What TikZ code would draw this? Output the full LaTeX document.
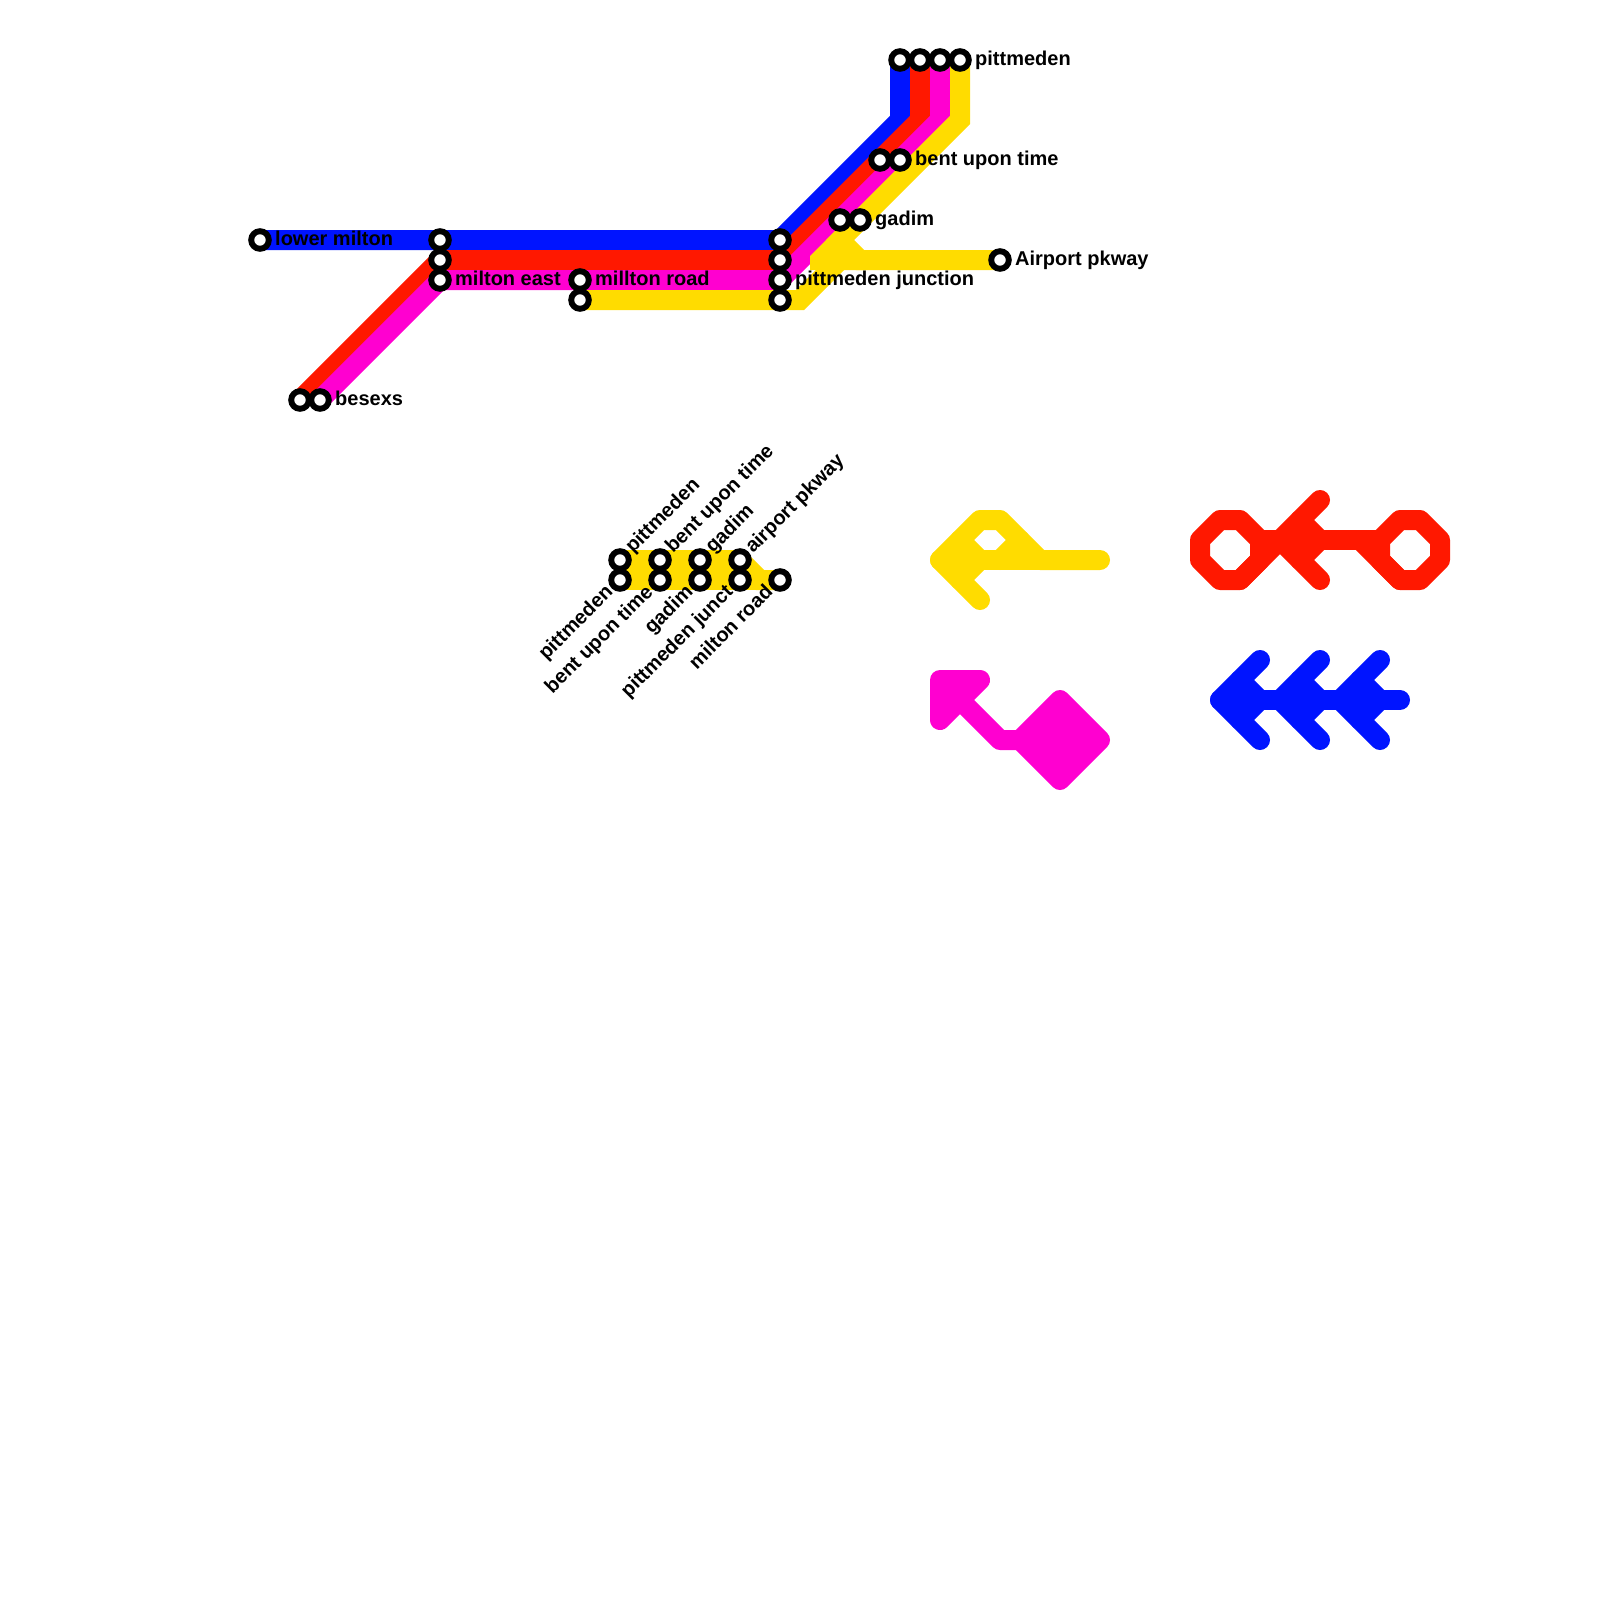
\documentclass[tikz,border=0pt]{standalone}
\usepackage{fontspec}
\setmainfont{Liberation Sans}[BoldFont={Liberation Sans Bold}]
\pgfdeclarelayer{lines}
\pgfsetlayers{lines,main}
\definecolor{lblue}{HTML}{0014FF}
\definecolor{lred}{HTML}{FF1800}
\definecolor{lmag}{HTML}{FF00D0}
\definecolor{lyel}{HTML}{FFDC00}
\tikzset{
  stn/.style={circle,draw=black,fill=white,line width=5.9pt,minimum size=17.6pt,inner sep=0pt},
  lab/.style={font=\fontsize{20pt}{22pt}\selectfont\bfseries,text=black,inner sep=0pt,anchor=base west},
  labr/.style={lab,rotate=45},
  labl/.style={font=\fontsize{20pt}{22pt}\selectfont\bfseries,text=black,inner sep=0pt,anchor=base east,rotate=45},
  route/.style={line width=20pt,line join=miter,line cap=butt},
  glyph/.style={line width=20pt,line join=round,line cap=round},
}
\begin{document}
\begin{tikzpicture}[x=1pt,y=-1pt]
\useasboundingbox (0,0) rectangle (1600,1600);
% stations
\foreach \n/\x/\y in {lm/260/240,me1/440/240,me2/440/260,me3/440/280,be1/300/400,be2/320/400,
  mr1/580/280,mr2/580/300,pj1/780/240,pj2/780/260,pj3/780/280,pj4/780/300,
  pi1/900/60,pi2/920/60,pi3/940/60,pi4/960/60,bu1/880/160,bu2/900/160,ga1/840/220,ga2/860/220,ap/1000/260,
  a1/620/560,a2/620/580,b1/660/560,b2/660/580,c1/700/560,c2/700/580,d1/740/560,d2/740/580,e2/780/580}
  {\node[stn] (\n) at (\x,\y) {};}
% labels
\node[lab] (tlm) at (275,245) {lower milton};
\node[lab] (tbe) at (335,405) {besexs};
\node[lab] (tme) at (455,285) {milton east};
\node[lab] (tmr) at (595,285) {millton road};
\node[lab] (tpj) at (795,285) {pittmeden junction};
\node[lab] (tpi) at (975,65.5) {pittmeden};
\node[lab] (tbu) at (915,165) {bent upon time};
\node[lab] (tga) at (875,225) {gadim};
\node[lab] (tap) at (1015,265) {Airport pkway};
\node[labr] (ua) at (633,554) {pittmeden};
\node[labr] (ub) at (673,554) {bent upon time};
\node[labr] (uc) at (713,554) {gadim};
\node[labr] (ud) at (753,554) {airport pkway};
\node[labl] (la) at (614,593) {pittmeden};
\node[labl] (lb) at (654,593) {bent upon time};
\node[labl] (lc) at (694,593) {gadim};
\node[labl] (ld) at (734,593) {pittmeden junct};
\node[labl] (le) at (774,593) {milton road};
\begin{pgfonlayer}{lines}
% bend points
\coordinate (bb1) at (780,240); \coordinate (bb2) at (900,120);
\coordinate (rr1) at (440,260); \coordinate (rr2) at (780,260); \coordinate (rr3) at (920,120);
\coordinate (mm1) at (440,280); \coordinate (mm2) at (780,280); \coordinate (mm3) at (940,120);
\coordinate (yy1) at (960,120); \coordinate (yy2) at (840,240); \coordinate (yy3) at (860,260);
\coordinate (yy4) at (800,300); \coordinate (yy5) at (840,260);
\coordinate (ee2) at (760,580);
\draw[route,lblue] (lm.center) -- (me1.center) -- (bb1) -- (bb2) -- (pi1.center);
\draw[route,lred] (be1.center) -- (rr1) -- (rr2) -- (rr3) -- (pi2.center);
\draw[route,lmag] (be2.center) -- (mm1) -- (mm2) -- (mm3) -- (pi3.center);
\draw[route,lyel] (pi4.center) -- (yy1) -- (yy2) -- (yy3) -- (ap.center);
\draw[route,lyel] (mr2.center) -- (yy4) -- (yy5);
\fill[lyel] (810,256) -- (826,240) -- (846,240) -- (866,260) -- (866,270) -- (810,270) -- cycle;
\draw[route,lyel] (a1.center) -- (d1.center) -- (ee2) -- (e2.center);
\draw[route,lyel] (a2.center) -- (e2.center);
\end{pgfonlayer}
% yellow glyph
\draw[glyph,lyel] (980,600) -- (940,560) -- (980,520) -- (1000,520) -- (1040,560) -- (1100,560);
\draw[glyph,lyel] (940,560) -- (1040,560);
\draw[glyph,lyel] (960,540) -- (980,560) -- (960,580);
\draw[glyph,lyel] (1000,560) -- (1020,540);
% red glyph
\draw[glyph,lred] (1220,520) -- (1240,520) -- (1260,540) -- (1260,560) -- (1240,580) -- (1220,580) -- (1200,560) -- (1200,540) -- cycle;
\draw[glyph,lred] (1400,520) -- (1420,520) -- (1440,540) -- (1440,560) -- (1420,580) -- (1400,580) -- (1380,560) -- (1380,540) -- cycle;
\draw[glyph,lred] (1260,540) -- (1380,540);
\draw[glyph,lred] (1240,580) -- (1280,540);
\draw[glyph,lred] (1360,540) -- (1400,580);
\draw[glyph,lred] (1320,500) -- (1280,540) -- (1320,580);
\draw[glyph,lred] (1300,520) -- (1320,540) -- (1300,560);
% magenta glyph
\filldraw[glyph,lmag] (980,680) -- (940,680) -- (940,720) -- cycle;
\draw[glyph,lmag] (960,700) -- (1000,740) -- (1020,740);
\filldraw[glyph,lmag] (1060,700) -- (1100,740) -- (1060,780) -- (1020,740) -- cycle;
% blue glyph
\draw[glyph,lblue] (1220,700) -- (1400,700);
\foreach \d in {0,60,120}{
  \draw[glyph,lblue] (1260+\d,660) -- (1220+\d,700) -- (1260+\d,740);
  \draw[glyph,lblue] (1240+\d,680) -- (1260+\d,700) -- (1240+\d,720);
}
\end{tikzpicture}
\end{document}
